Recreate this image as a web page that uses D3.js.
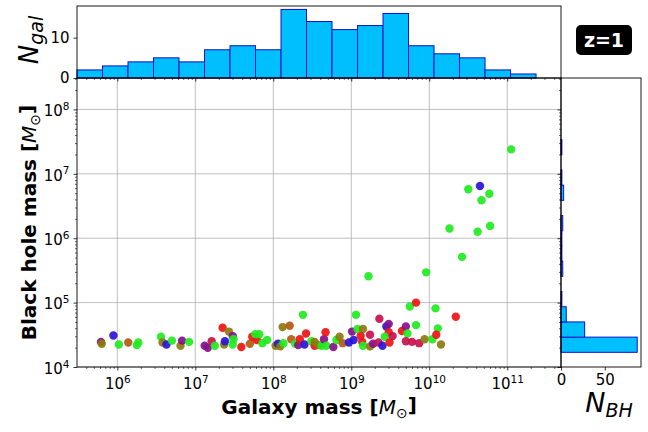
<!DOCTYPE html>
<html>
<head>
<meta charset="utf-8">
<script src="https://cdn.jsdelivr.net/npm/d3@7"></script>
<style>
  body { margin: 0; background: #fff; }
  svg { font-family: "DejaVu Sans", sans-serif; }
</style>
</head>
<body>
<svg id="chart" width="648" height="432"></svg>
<script>
// one entry per galaxy: log10 galaxy mass, log10 black hole mass, colour group
const galaxyLogMass = [
    5.79, 5.80, 5.95, 6.02, 6.14, 6.25, 6.27, 6.56, 6.58, 6.63, 6.70, 6.81, 6.83, 6.92,
    7.12, 7.16, 7.21, 7.25, 7.35, 7.37, 7.38, 7.43, 7.48, 7.49, 7.48, 7.59, 7.70, 7.73,
    7.79, 7.77, 7.82, 7.86, 7.92, 8.03, 8.06, 8.09, 8.12, 8.21, 8.13, 8.23, 8.28, 8.32,
    8.34, 8.38, 8.40, 8.42, 8.49, 8.53, 8.53, 8.58, 8.62, 8.65, 8.67, 8.68, 8.77, 8.81,
    8.85, 8.89, 8.97, 9.01, 9.03, 9.06, 9.08, 9.15, 9.12, 9.14, 9.15, 9.22, 9.24, 9.24,
    9.28, 9.35, 9.36, 9.40, 9.45, 9.48, 9.48, 9.43, 9.49, 9.53, 9.65, 9.70, 9.72, 9.70,
    9.78, 9.87, 9.75, 9.83, 9.83, 9.94, 9.96, 10.04, 10.11, 10.09, 10.15, 10.08, 10.34,
    10.26, 10.42, 10.50, 10.62, 10.65, 10.67, 10.77, 10.78, 11.05
];
const bhLogMass = [
    4.39, 4.36, 4.49, 4.35, 4.38, 4.34, 4.38, 4.47, 4.38, 4.35, 4.41, 4.33, 4.41, 4.39,
    4.33, 4.30, 4.40, 4.33, 4.61, 4.35, 4.40, 4.55, 4.48, 4.43, 4.35, 4.31, 4.36, 4.47,
    4.42, 4.51, 4.51, 4.37, 4.42, 4.33, 4.36, 4.32, 4.62, 4.64, 4.37, 4.43, 4.36, 4.34,
    4.43, 4.81, 4.35, 4.52, 4.40, 4.33, 4.39, 4.34, 4.33, 4.43, 4.54, 4.33, 4.31, 4.42,
    4.47, 4.37, 4.38, 4.55, 4.42, 4.81, 4.59, 4.59, 4.48, 4.39, 4.33, 5.41, 4.50, 4.32,
    4.36, 4.38, 4.75, 4.33, 4.63, 4.67, 4.54, 4.47, 4.38, 4.48, 4.56, 4.63, 4.52, 4.40,
    4.39, 4.37, 4.94, 5.00, 4.65, 4.43, 5.47, 4.43, 4.60, 4.50, 4.35, 4.91, 4.78,
    6.15, 5.71, 6.76, 6.10, 6.81, 6.59, 6.69, 6.19, 7.38
];
const pointGroup = [
    "p", "o", "b", "g", "n", "g", "g", "g", "o", "b", "g", "o", "p", "g",
    "p", "p", "c", "g", "r", "o", "b", "o", "p", "g", "g", "r", "n", "r",
    "r", "g", "g", "g", "g", "o", "b", "o", "o", "n", "g", "n", "g", "p",
    "r", "g", "b", "r", "g", "r", "o", "o", "g", "p", "r", "g", "p", "g",
    "o", "n", "b", "p", "b", "g", "g", "o", "r", "r", "g", "g", "c", "o",
    "p", "c", "c", "b", "b", "p", "r", "g", "r", "c", "r", "p", "g", "c",
    "c", "c", "g", "r", "g", "o", "g", "g", "g", "r", "o", "g", "r",
    "g", "g", "g", "g", "b", "g", "g", "g", "g"
];
const groupColors = {
    g: "#20ea20", r: "#ee1414", b: "#2a14d8", p: "#86108c",
    c: "#c8104e", o: "#8c7a0c", n: "#b45a12"
};

// top histogram: galaxies per log-mass bin
const galBinStart = 5.483;
const galBinWidth = 0.327;
const galCounts = [2, 3, 4, 5, 4, 7, 8, 7, 17, 14, 12, 13, 16, 8, 6, 5, 2, 1];

// right histogram: black holes per log-mass bin
const bhBinStart = 4.228;
const bhBinWidth = 0.236;
const bhCounts = [87, 27, 6, 1, 0, 2, 1, 1, 2, 0, 3, 1, 0, 1];

const galTicks = [6, 7, 8, 9, 10, 11];
const bhTicks = [4, 5, 6, 7, 8];
const nGalTicks = [0, 10];
const nBhTicks = [0, 50];

const chartScatterHist = () => {
    const svg = d3.select("#chart");
    const main = { left: 77, right: 561, top: 78, bottom: 367 };
    const topH = { top: 6, bottom: 78 };
    const rightH = { left: 561, right: 641 };

    const x = d3.scaleLog().domain([10 ** 5.483, 10 ** 11.689]).range([main.left, main.right]);
    const y = d3.scaleLog().domain([1e4, 10 ** 8.488]).range([main.bottom, main.top]);
    const yTop = d3.scaleLinear().domain([0, d3.max(galCounts) * 1.05]).range([topH.bottom, topH.top]);
    const xRight = d3.scaleLinear().domain([0, d3.max(bhCounts) * 1.05]).range([rightH.left, rightH.right]);

    const minorOf = s => s.ticks().filter(v => Math.abs(Math.log10(v) - Math.round(Math.log10(v))) > 1e-6);

    // grid
    const grid = svg.append("g").attr("stroke", "#b0b0b0").attr("stroke-width", 0.8);
    grid.selectAll("line.gx").data(galTicks).join("line")
        .attr("x1", d => x(10 ** d)).attr("x2", d => x(10 ** d))
        .attr("y1", main.top).attr("y2", main.bottom);
    grid.selectAll("line.gy").data(bhTicks).join("line")
        .attr("y1", d => y(10 ** d)).attr("y2", d => y(10 ** d))
        .attr("x1", main.left).attr("x2", main.right);

    // scatter
    svg.append("g")
        .selectAll("circle")
        .data(galaxyLogMass.map((m, i) => ({ m, bh: bhLogMass[i], c: pointGroup[i] })))
        .join("circle")
        .attr("cx", d => x(10 ** d.m))
        .attr("cy", d => y(10 ** d.bh))
        .attr("r", 4.2)
        .attr("fill", d => groupColors[d.c])
        .attr("fill-opacity", 0.92);

    // top histogram
    svg.append("g")
        .selectAll("rect")
        .data(galCounts)
        .join("rect")
        .attr("x", (d, i) => x(10 ** (galBinStart + i * galBinWidth)))
        .attr("width", (d, i) => x(10 ** (galBinStart + (i + 1) * galBinWidth)) - x(10 ** (galBinStart + i * galBinWidth)))
        .attr("y", d => yTop(d))
        .attr("height", d => yTop(0) - yTop(d))
        .attr("fill", "#00bfff")
        .attr("stroke", "#1010c8")
        .attr("stroke-width", 1);

    // right histogram
    svg.append("g")
        .selectAll("rect")
        .data(bhCounts)
        .join("rect")
        .attr("x", xRight(0))
        .attr("width", d => xRight(d) - xRight(0))
        .attr("y", (d, i) => y(10 ** (bhBinStart + (i + 1) * bhBinWidth)))
        .attr("height", (d, i) => y(10 ** (bhBinStart + i * bhBinWidth)) - y(10 ** (bhBinStart + (i + 1) * bhBinWidth)))
        .attr("fill", "#00bfff")
        .attr("stroke", "#1010c8")
        .attr("stroke-width", 1);

    // frames
    const frames = svg.append("g").attr("fill", "none").attr("stroke", "#000").attr("stroke-width", 0.9);
    frames.append("rect").attr("x", main.left).attr("y", main.top)
        .attr("width", main.right - main.left).attr("height", main.bottom - main.top);
    frames.append("rect").attr("x", main.left).attr("y", topH.top)
        .attr("width", main.right - main.left).attr("height", topH.bottom - topH.top);
    frames.append("rect").attr("x", rightH.left).attr("y", main.top)
        .attr("width", rightH.right - rightH.left).attr("height", main.bottom - main.top);

    const styleAxis = g => {
        g.select(".domain").remove();
        g.selectAll("line").attr("stroke", "#000").attr("stroke-width", 0.8);
        g.attr("font-family", "DejaVu Sans, sans-serif").attr("font-size", 15);
        g.selectAll("text").attr("fill", "#000");
    };
    const powerLabel = g => {
        g.selectAll(".tick text").each(function (d) {
            const t = d3.select(this).text(null);
            t.append("tspan").text("10");
            t.append("tspan").attr("font-size", 10.5).attr("dy", "-0.6em").text(Math.round(Math.log10(d)));
        });
    };

    // main x axis + minor
    svg.append("g").attr("transform", `translate(0,${main.bottom})`)
        .call(d3.axisBottom(x).tickValues(galTicks.map(d => 10 ** d)).tickSize(3.5).tickPadding(8))
        .call(styleAxis).call(powerLabel);
    svg.append("g").attr("transform", `translate(0,${main.bottom})`)
        .call(d3.axisBottom(x).tickValues(minorOf(x)).tickSize(2).tickFormat(""))
        .call(styleAxis).selectAll("line").attr("stroke-width", 0.6);

    // main y axis + minor
    svg.append("g").attr("transform", `translate(${main.left},0)`)
        .call(d3.axisLeft(y).tickValues(bhTicks.map(d => 10 ** d)).tickSize(3.5).tickPadding(4))
        .call(styleAxis).call(powerLabel)
        .selectAll(".tick text").attr("dy", "0.42em");
    svg.append("g").attr("transform", `translate(${main.left},0)`)
        .call(d3.axisLeft(y).tickValues(minorOf(y)).tickSize(2).tickFormat(""))
        .call(styleAxis).selectAll("line").attr("stroke-width", 0.6);

    // top histogram: shared x ticks (no labels) and count axis
    svg.append("g").attr("transform", `translate(0,${topH.bottom})`)
        .call(d3.axisBottom(x).tickValues(galTicks.map(d => 10 ** d)).tickSize(3.5).tickFormat(""))
        .call(styleAxis);
    svg.append("g").attr("transform", `translate(0,${topH.bottom})`)
        .call(d3.axisBottom(x).tickValues(minorOf(x)).tickSize(2).tickFormat(""))
        .call(styleAxis).selectAll("line").attr("stroke-width", 0.6);
    svg.append("g").attr("transform", `translate(${main.left},0)`)
        .call(d3.axisLeft(yTop).tickValues(nGalTicks).tickSize(3.5).tickPadding(4))
        .call(styleAxis);

    // right histogram: shared y ticks (no labels) and count axis
    svg.append("g").attr("transform", `translate(${rightH.left},0)`)
        .call(d3.axisLeft(y).tickValues(bhTicks.map(d => 10 ** d)).tickSize(3.5).tickFormat(""))
        .call(styleAxis);
    svg.append("g").attr("transform", `translate(${rightH.left},0)`)
        .call(d3.axisLeft(y).tickValues(minorOf(y)).tickSize(2).tickFormat(""))
        .call(styleAxis).selectAll("line").attr("stroke-width", 0.6);
    svg.append("g").attr("transform", `translate(0,${main.bottom})`)
        .call(d3.axisBottom(xRight).tickValues(nBhTicks).tickSize(3.5).tickPadding(4))
        .call(styleAxis);

    // axis titles
    const xTitle = svg.append("text")
        .attr("x", (main.left + main.right) / 2).attr("y", 414)
        .attr("text-anchor", "middle").attr("font-size", 20).attr("font-weight", "bold");
    xTitle.append("tspan").text("Galaxy mass [");
    xTitle.append("tspan").attr("font-weight", "normal").attr("font-style", "italic").text("M");
    xTitle.append("tspan").attr("font-weight", "normal").attr("font-size", 14).attr("dy", "0.3em").text("⊙");
    xTitle.append("tspan").attr("dy", "-0.3em").text("]");

    const yTitle = svg.append("text")
        .attr("transform", `translate(36,${(main.top + main.bottom) / 2}) rotate(-90)`)
        .attr("text-anchor", "middle").attr("font-size", 20).attr("font-weight", "bold");
    yTitle.append("tspan").text("Black hole mass [");
    yTitle.append("tspan").attr("font-weight", "normal").attr("font-style", "italic").text("M");
    yTitle.append("tspan").attr("font-weight", "normal").attr("font-size", 14).attr("dy", "0.3em").text("⊙");
    yTitle.append("tspan").attr("dy", "-0.3em").text("]");

    const nGal = svg.append("text")
        .attr("transform", `translate(38,40) rotate(-90)`)
        .attr("text-anchor", "middle").attr("font-size", 26).attr("font-style", "italic");
    nGal.append("tspan").text("N");
    nGal.append("tspan").attr("font-size", 19).attr("dy", "0.25em").text("gal");

    const nBh = svg.append("text")
        .attr("x", (rightH.left + rightH.right) / 2 + 8).attr("y", 412)
        .attr("text-anchor", "middle").attr("font-size", 27).attr("font-style", "italic");
    nBh.append("tspan").text("N");
    nBh.append("tspan").attr("font-size", 19).attr("dy", "0.25em").text("BH");

    // redshift badge
    svg.append("rect").attr("x", 576).attr("y", 25).attr("width", 56).attr("height", 30)
        .attr("rx", 5).attr("fill", "#000");
    svg.append("text").attr("x", 604).attr("y", 40).attr("dy", "0.36em")
        .attr("text-anchor", "middle").attr("font-size", 19).attr("font-weight", "bold")
        .attr("fill", "#fff").text("z=1");
};

chartScatterHist();
</script>
</body>
</html>
